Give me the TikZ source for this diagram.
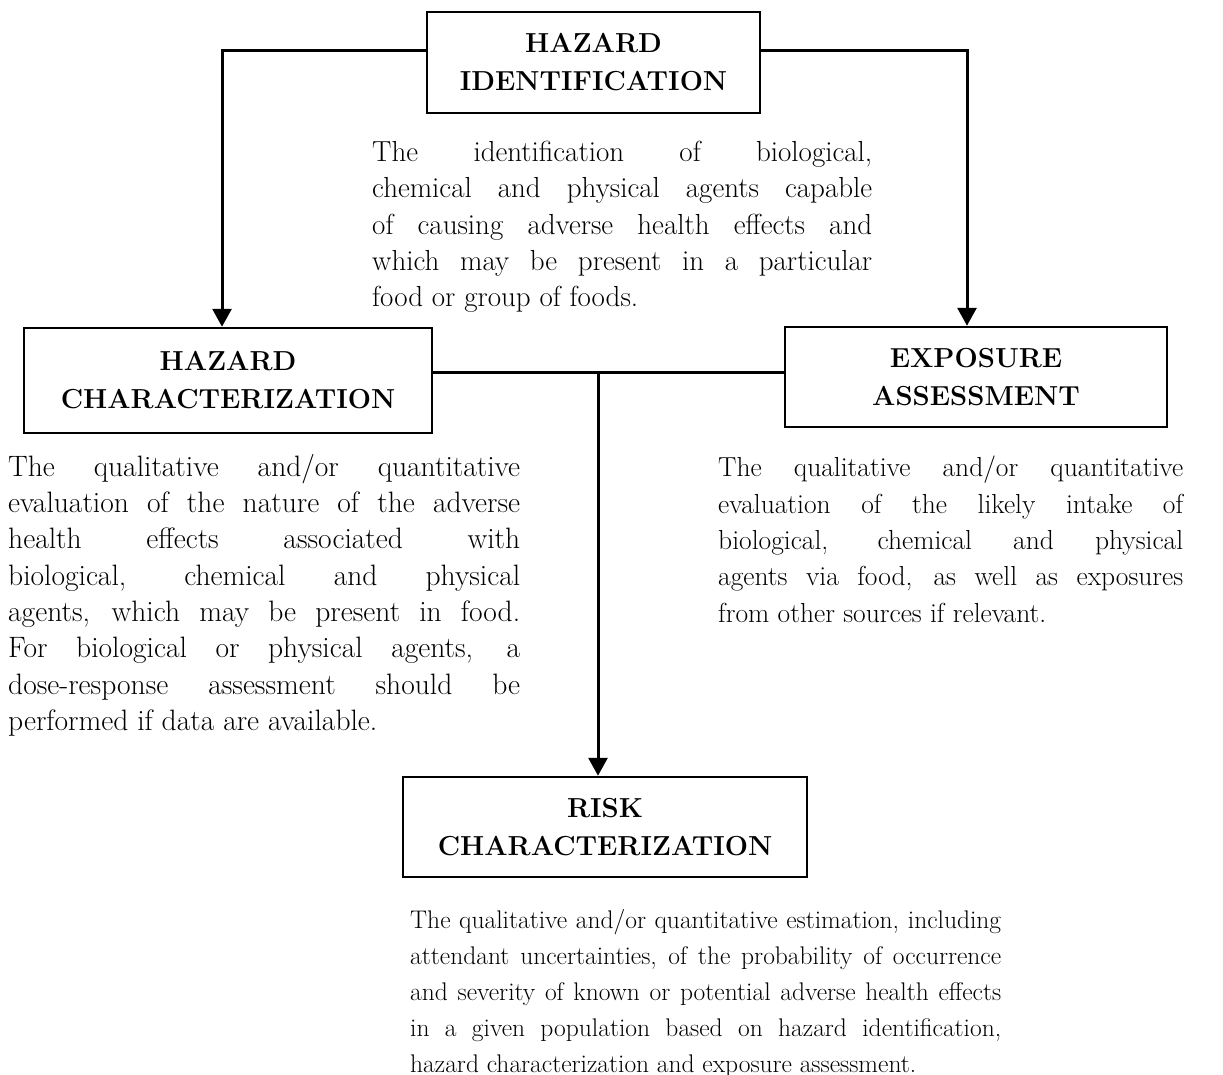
\documentclass[tikz,border=0pt]{standalone}
\usetikzlibrary{arrows.meta}
\begin{document}
\hyphenpenalty=10000\relax
\tolerance=10000\relax
\hbadness=10000\relax
\hfuzz=20pt\relax
\begin{tikzpicture}[x=1pt,y=-1pt,
  box/.style={draw, line width=2.5pt, inner sep=0pt, align=center, font=\fontsize{27.5}{38}\selectfont\bfseries},
  desc/.style={anchor=north west, inner sep=0pt, align=justify},
  conn/.style={line width=3pt},
  arr/.style={conn, -{Triangle[length=18pt,width=19pt]}}]
\useasboundingbox (0,0) rectangle (1223,1075);
% boxes
\node[box, minimum width=333pt, minimum height=101pt] (hi) at (593.5,62.5) {HAZARD\\IDENTIFICATION};
\node[box, minimum width=408pt, minimum height=105pt] (hc) at (228,380.5) {HAZARD\\CHARACTERIZATION};
\node[box, minimum width=382pt, minimum height=100pt] (ea) at (976,377) {EXPOSURE\\ASSESSMENT};
\node[box, minimum width=404pt, minimum height=100pt] (rc) at (605,827) {RISK\\CHARACTERIZATION};
% descriptions
\node[desc, text width=500pt, font=\fontsize{29}{36.3}\selectfont] (hid) at (372,141) {The identification of biological,\linebreak chemical and physical agents capable\linebreak of causing adverse health effects and\linebreak which may be present in a particular\linebreak food or group of foods.};
\node[desc, text width=512pt, font=\fontsize{29.5}{36.3}\selectfont] (hcd) at (8,454) {The qualitative and/or quantitative\linebreak evaluation of the nature of the adverse\linebreak health effects associated with\linebreak biological, chemical and physical\linebreak agents, which may be present in food.\linebreak For biological or physical agents, a\linebreak dose-response assessment should be\linebreak performed if data are available.};
\node[desc, text width=465pt, font=\fontsize{27.5}{36.3}\selectfont] (ead) at (718,456) {The qualitative and/or quantitative\linebreak evaluation of the likely intake of\linebreak biological, chemical and physical\linebreak agents via food, as well as exposures\linebreak from other sources if relevant.};
\node[desc, text width=591pt, font=\fontsize{25.5}{36}\selectfont] (rcd) at (410,909) {The qualitative and/or quantitative estimation, including\linebreak attendant uncertainties, of the probability of occurrence\linebreak and severity of known or potential adverse health effects\linebreak in a given population based on hazard identification,\linebreak hazard characterization and exposure assessment.};
% connectors
\coordinate (tl) at (222,51);
\coordinate (tr) at (967,51);
\coordinate (mid) at (598,372);
\draw[arr] (hi.west |- tl) -- (tl) -- (tl |- hc.north);
\draw[arr] (hi.east |- tr) -- (tr) -- (tr |- ea.north);
\draw[conn] (hc.east |- mid) -- (ea.west |- mid);
\draw[arr] (mid) -- (mid |- rc.north);
\end{tikzpicture}
\end{document}
